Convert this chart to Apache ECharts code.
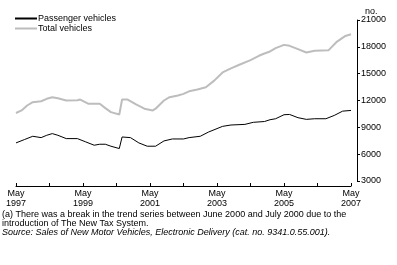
<!DOCTYPE html>
<html>
<head>
<meta charset="utf-8">
<script src="https://cdn.jsdelivr.net/npm/echarts@6/dist/echarts.min.js"></script>
<style>
  html, body { margin: 0; padding: 0; background: #fff; }
  #chart { width: 397px; height: 265px; }
</style>
</head>
<body>
<div id="chart"></div>
<script>
// months counted from May 1997 (0) to May 2007 (120)
const totalMonths = [0, 2, 4, 6, 9, 11, 13, 15, 18, 22, 23, 26, 30, 32, 34, 37, 38, 40, 43, 46, 49, 50, 53, 55, 58, 60, 62, 65, 68, 71, 74, 77, 80, 84, 87, 89, 91, 93, 96, 98, 101, 104, 107, 112, 115, 118, 120]
const totalValues = [10600, 10890, 11440, 11810, 11920, 12190, 12370, 12260, 12000, 12030, 12110, 11630, 11630, 11150, 10700, 10440, 12110, 12110, 11560, 11080, 10890, 11080, 12000, 12370, 12550, 12740, 13030, 13220, 13480, 14220, 15140, 15590, 16000, 16520, 17000, 17260, 17480, 17850, 18220, 18110, 17740, 17370, 17560, 17630, 18590, 19220, 19410]

const passMonths = [0, 3, 6, 9, 11, 13, 15, 18, 22, 25, 28, 30, 32, 34, 37, 38, 41, 44, 47, 50, 53, 56, 60, 62, 66, 69, 74, 77, 82, 85, 89, 91, 93, 96, 98, 101, 104, 107, 111, 114, 117, 120]
const passValues = [7260, 7630, 8000, 7850, 8110, 8300, 8110, 7740, 7740, 7370, 7000, 7110, 7110, 6890, 6630, 7920, 7850, 7260, 6890, 6890, 7480, 7700, 7700, 7850, 8000, 8480, 9110, 9260, 9330, 9560, 9650, 9850, 9960, 10410, 10440, 10080, 9890, 9960, 9960, 10330, 10810, 10890]

const startYear = 1997
const yTicks = [3000, 21000, 3000] // min, max, interval

const footnote1 = '(a) There was a break in the trend series between June 2000 and July 2000 due to the'
const footnote2 = 'introduction of The New Tax System.'
const source = 'Source: Sales of New Motor Vehicles, Electronic Delivery (cat. no. 9341.0.55.001).'

const pairs = (xs, ys) => xs.map((m, i) => [m, ys[i]])
const font = 'Liberation Sans, Arial, sans-serif'

const chart = echarts.init(document.getElementById('chart'))
chart.setOption({
  animation: false,
  backgroundColor: '#fff',
  textStyle: { fontFamily: font },
  grid: { left: 16, right: 46, top: 20, bottom: 84 },
  legend: {
    orient: 'vertical',
    left: 9,
    top: 9,
    itemGap: 1,
    itemWidth: 22,
    itemHeight: 9,
    itemStyle: { opacity: 0 },
    textStyle: { fontSize: 9, color: '#000', fontFamily: font, padding: [0, 0, 0, -4] },
    data: ['Passenger vehicles', 'Total vehicles']
  },
  xAxis: {
    type: 'value',
    min: 0,
    max: 120,
    interval: 12,
    offset: 5,
    axisLine: { onZero: false, lineStyle: { color: '#000', width: 1 } },
    axisTick: { inside: true, length: 3, lineStyle: { color: '#000' } },
    splitLine: { show: false },
    axisLabel: {
      fontSize: 9,
      color: '#000',
      lineHeight: 10,
      margin: 3,
      showMinLabel: true,
      showMaxLabel: true,
      formatter: v => (v % 24 === 0 ? 'May\n' + (startYear + v / 12) : '')
    }
  },
  yAxis: {
    type: 'value',
    position: 'right',
    min: yTicks[0],
    max: yTicks[1],
    interval: yTicks[2],
    offset: 6,
    name: 'no.',
    nameGap: 4,
    nameTextStyle: { fontSize: 9, color: '#000', align: 'left', padding: [0, 0, 0, 8] },
    axisLine: { show: true, onZero: false, lineStyle: { color: '#000', width: 1 } },
    axisTick: { show: true, length: 3, lineStyle: { color: '#000' } },
    splitLine: { show: false },
    axisLabel: { fontSize: 9, color: '#000', margin: 4, formatter: v => String(v) }
  },
  series: [
    {
      name: 'Passenger vehicles',
      type: 'line',
      symbol: 'none',
      data: pairs(passMonths, passValues),
      lineStyle: { color: '#000', width: 1 },
      itemStyle: { color: '#000' },
      z: 3
    },
    {
      name: 'Total vehicles',
      type: 'line',
      symbol: 'none',
      data: pairs(totalMonths, totalValues),
      lineStyle: { color: '#bdbdbd', width: 2 },
      itemStyle: { color: '#bdbdbd' },
      z: 2
    }
  ],
  graphic: [
    { type: 'text', left: 2, top: 210, style: { text: footnote1, fontSize: 9, fontFamily: font, fill: '#000' } },
    { type: 'text', left: 2, top: 219, style: { text: footnote2, fontSize: 9, fontFamily: font, fill: '#000' } },
    { type: 'text', left: 2, top: 228, style: { text: source, fontSize: 9, fontStyle: 'italic', fontFamily: font, fill: '#000' } }
  ]
})
</script>
</body>
</html>
